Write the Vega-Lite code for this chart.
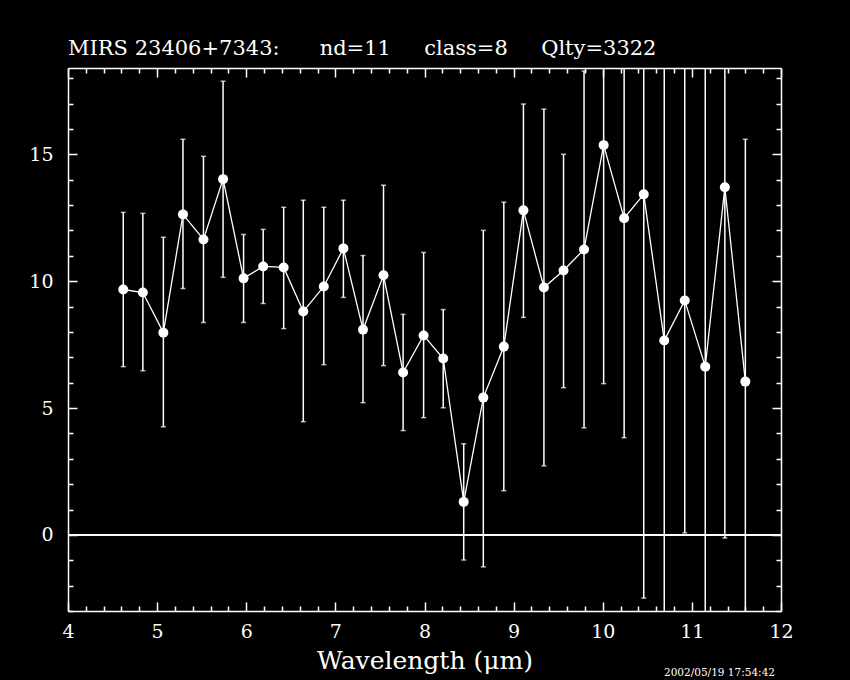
{
  "$schema": "https://vega.github.io/schema/vega-lite/v6.json",
  "width": 713,
  "height": 543,
  "autosize": "none",
  "padding": {"left": 68, "top": 68, "right": 69, "bottom": 69},
  "background": "black",
  "config": {
    "view": {"stroke": null},
    "axis": {
      "domainColor": "white", "domainWidth": 1.5, "tickColor": "white", "tickWidth": 1.5,
      "labelColor": "white", "titleColor": "white", "grid": false,
      "labelFont": "DejaVu Serif", "titleFont": "DejaVu Serif",
      "labelOverlap": false, "labelFlush": false, "labelBound": false
    }
  },
  "title": {
    "text": "MIRS 23406+7343:\u00a0\u00a0\u00a0\u00a0\u00a0 nd=11\u00a0\u00a0\u00a0\u00a0 class=8\u00a0\u00a0\u00a0\u00a0 Qlty=3322",
    "anchor": "start", "frame": "group", "color": "white",
    "font": "DejaVu Serif", "fontSize": 21, "fontWeight": "normal", "offset": 8
  },
  "data": {"values": [
    {"wl": 4.62, "flux": 9.67, "lo": 6.63, "hi": 12.71},
    {"wl": 4.84, "flux": 9.55, "lo": 6.47, "hi": 12.67},
    {"wl": 5.07, "flux": 7.97, "lo": 4.26, "hi": 11.73},
    {"wl": 5.29, "flux": 12.63, "lo": 9.71, "hi": 15.59},
    {"wl": 5.52, "flux": 11.64, "lo": 8.37, "hi": 14.92},
    {"wl": 5.74, "flux": 14.02, "lo": 10.15, "hi": 17.88},
    {"wl": 5.97, "flux": 10.11, "lo": 8.37, "hi": 11.84},
    {"wl": 6.19, "flux": 10.58, "lo": 9.12, "hi": 12.04},
    {"wl": 6.42, "flux": 10.54, "lo": 8.13, "hi": 12.91},
    {"wl": 6.64, "flux": 8.80, "lo": 4.46, "hi": 13.19},
    {"wl": 6.87, "flux": 9.79, "lo": 6.71, "hi": 12.91},
    {"wl": 7.09, "flux": 11.29, "lo": 9.36, "hi": 13.19},
    {"wl": 7.31, "flux": 8.09, "lo": 5.21, "hi": 11.01},
    {"wl": 7.54, "flux": 10.23, "lo": 6.67, "hi": 13.78},
    {"wl": 7.76, "flux": 6.40, "lo": 4.11, "hi": 8.69},
    {"wl": 7.99, "flux": 7.86, "lo": 4.62, "hi": 11.13},
    {"wl": 8.21, "flux": 6.95, "lo": 5.01, "hi": 8.88},
    {"wl": 8.44, "flux": 1.30, "lo": -0.99, "hi": 3.59},
    {"wl": 8.66, "flux": 5.41, "lo": -1.26, "hi": 12.0},
    {"wl": 8.89, "flux": 7.42, "lo": 1.74, "hi": 13.11},
    {"wl": 9.11, "flux": 12.79, "lo": 8.57, "hi": 16.98},
    {"wl": 9.34, "flux": 9.75, "lo": 2.72, "hi": 16.78},
    {"wl": 9.56, "flux": 10.42, "lo": 5.80, "hi": 15.0},
    {"wl": 9.79, "flux": 11.25, "lo": 4.22, "hi": 18.28},
    {"wl": 10.01, "flux": 15.36, "lo": 5.96, "hi": 24.76},
    {"wl": 10.24, "flux": 12.48, "lo": 3.83, "hi": 21.13},
    {"wl": 10.46, "flux": 13.42, "lo": -2.49, "hi": 29.33},
    {"wl": 10.69, "flux": 7.66, "lo": -5.0, "hi": 20.3},
    {"wl": 10.92, "flux": 9.24, "lo": 0.08, "hi": 18.6},
    {"wl": 11.15, "flux": 6.63, "lo": -4.5, "hi": 19.0},
    {"wl": 11.37, "flux": 13.70, "lo": -0.12, "hi": 27.52},
    {"wl": 11.60, "flux": 6.04, "lo": -3.5, "hi": 15.59}
  ]},
  "resolve": {"axis": {"x": "independent", "y": "independent"}},
  "layer": [
    {
      "mark": {"type": "rule", "color": "white", "strokeWidth": 2},
      "encoding": {"y": {"datum": 0, "type": "quantitative", "axis": null,
        "scale": {"domain": [-3, 18.4], "nice": false, "zero": false}}}
    },
    {
      "mark": {"type": "errorbar", "ticks": true, "size": 5, "thickness": 1.5, "color": "white", "clip": true},
      "encoding": {
        "x": {"field": "wl", "type": "quantitative", "axis": null},
        "y": {"field": "lo", "type": "quantitative", "axis": null, "title": null},
        "y2": {"field": "hi"}
      }
    },
    {
      "mark": {"type": "line", "color": "white", "strokeWidth": 1.3},
      "encoding": {
        "x": {"field": "wl", "type": "quantitative",
          "axis": {"orient": "top", "title": null, "labels": false,
            "values": [4,4.2,4.4,4.6,4.8,5,5.2,5.4,5.6,5.8,6,6.2,6.4,6.6,6.8,7,7.2,7.4,7.6,7.8,8,8.2,8.4,8.6,8.8,9,9.2,9.4,9.6,9.8,10,10.2,10.4,10.6,10.8,11,11.2,11.4,11.6,11.8,12],
            "tickSize": {"condition": {"test": "abs(datum.value - round(datum.value)) < 0.01", "value": -9}, "value": -5}}},
        "y": {"field": "flux", "type": "quantitative",
          "axis": {"orient": "right", "title": null, "labels": false,
            "values": [-3,-2,-1,0,1,2,3,4,5,6,7,8,9,10,11,12,13,14,15,16,17,18],
            "tickSize": {"condition": {"test": "datum.value % 5 == 0", "value": -9}, "value": -5}}}
      }
    },
    {
      "mark": {"type": "point", "filled": true, "opacity": 1, "size": 100, "color": "white"},
      "encoding": {
        "x": {"field": "wl", "type": "quantitative",
          "scale": {"domain": [4, 12], "nice": false, "zero": false},
          "axis": {"orient": "bottom", "title": "Wavelength (μm)", "titleFontSize": 25, "titleFontWeight": "normal",
            "labelFontSize": 19, "labelPadding": 20, "titlePadding": 3,
            "values": [4,4.2,4.4,4.6,4.8,5,5.2,5.4,5.6,5.8,6,6.2,6.4,6.6,6.8,7,7.2,7.4,7.6,7.8,8,8.2,8.4,8.6,8.8,9,9.2,9.4,9.6,9.8,10,10.2,10.4,10.6,10.8,11,11.2,11.4,11.6,11.8,12],
            "labelExpr": "abs(datum.value - round(datum.value)) < 0.01 ? format(datum.value, 'd') : ''",
            "tickSize": {"condition": {"test": "abs(datum.value - round(datum.value)) < 0.01", "value": -9}, "value": -5}}},
        "y": {"field": "flux", "type": "quantitative",
          "axis": {"orient": "left", "title": null, "labelFontSize": 19, "labelPadding": 24,
            "values": [-3,-2,-1,0,1,2,3,4,5,6,7,8,9,10,11,12,13,14,15,16,17,18],
            "labelExpr": "datum.value % 5 == 0 ? datum.label : ''",
            "tickSize": {"condition": {"test": "datum.value % 5 == 0", "value": -9}, "value": -5}}}
      }
    },
    {
      "data": {"values": [{"stamp": "2002/05/19 17:54:42"}]},
      "mark": {"type": "text", "color": "white", "font": "DejaVu Serif", "fontSize": 10.5, "align": "center", "baseline": "top"},
      "encoding": {
        "x": {"datum": 11.31, "type": "quantitative", "axis": null},
        "y": {"datum": -5.26, "type": "quantitative", "axis": null},
        "text": {"field": "stamp"}
      }
    }
  ]
}
